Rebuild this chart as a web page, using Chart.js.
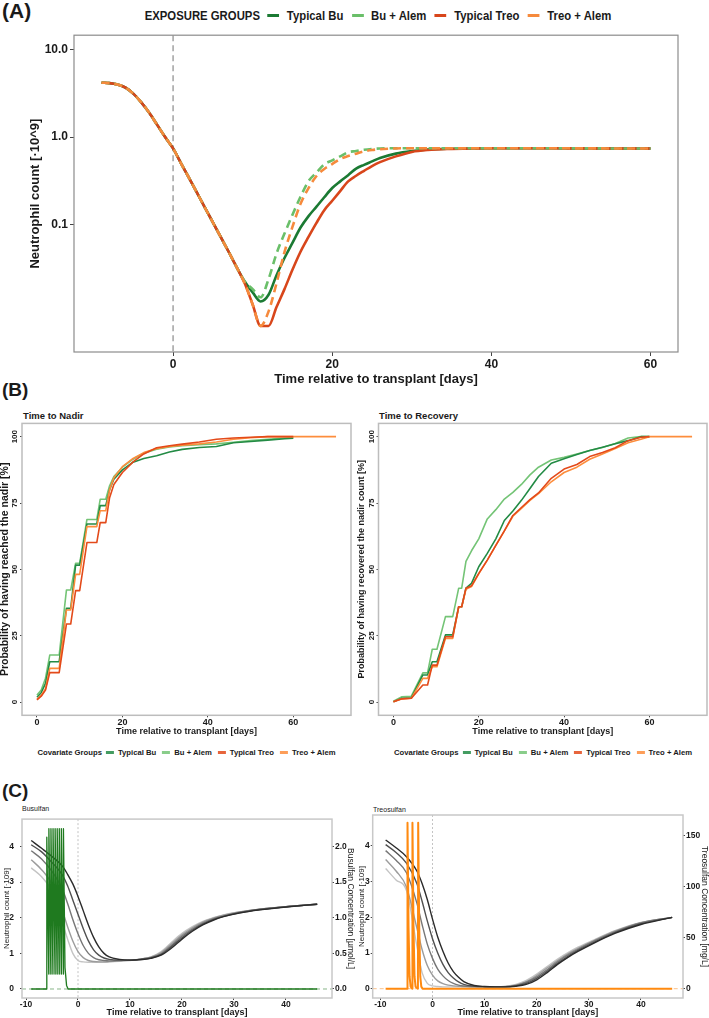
<!DOCTYPE html>
<html>
<head>
<meta charset="utf-8">
<script src="https://cdn.jsdelivr.net/npm/chart.js@4.4.1/dist/chart.umd.min.js"></script>
<style>
  html,body{margin:0;padding:0;background:#fff;}
  body{width:709px;height:1018px;position:relative;overflow:hidden;font-family:"Liberation Sans",Arial,sans-serif;color:#1a1a1a;}
  canvas{position:absolute;}
  .t{position:absolute;white-space:nowrap;line-height:1;}
  .b{font-weight:bold;}
  .leg{position:absolute;display:flex;align-items:center;white-space:nowrap;font-weight:bold;line-height:1;transform:translateX(-50%);}
  .key{display:inline-block;}
</style>
</head>
<body>
<div class="t b" style="left:2px;top:0px;font-size:21px">(A)</div>
<div class="leg" id="legA" style="left:378px;top:9px;font-size:13.5px;transform:translateX(-50%) scaleX(0.84)"></div>
<div class="t b" style="left:2px;top:379.5px;font-size:19px">(B)</div>
<div class="t b" style="left:23px;top:411.3px;font-size:9.5px">Time to Nadir</div>
<div class="t b" style="left:379px;top:411.3px;font-size:9.5px">Time to Recovery</div>
<div class="leg" id="legBL" style="left:186.5px;top:748.5px;font-size:7.7px"></div>
<div class="leg" id="legBR" style="left:543px;top:748.5px;font-size:7.7px"></div>
<div class="t b" style="left:2px;top:781px;font-size:19px">(C)</div>
<div class="t" style="left:22px;top:804.9px;font-size:7px">Busulfan</div>
<div class="t" style="left:373px;top:805.6px;font-size:7px">Treosulfan</div>

<canvas id="cA" width="692" height="366" style="left:0;top:26px"></canvas>
<canvas id="cBL" width="356" height="322" style="left:0;top:418px"></canvas>
<canvas id="cBR" width="353" height="322" style="left:356px;top:418px"></canvas>
<canvas id="cCL" width="362" height="210" style="left:0;top:808px"></canvas>
<canvas id="cCR" width="354" height="210" style="left:355px;top:808px"></canvas>

<script>
// ---------------- DATA ----------------
const groups = ['Typical Bu', 'Bu + Alem', 'Typical Treo', 'Treo + Alem'];

// Panel A: typical neutrophil profiles (x10^9)
const daysA = [-9,-8,-7,-6,-5,-4,-3,-2,-1,0,1,2,3,4,5,6,7,8,
               9,10,11,12,13,14,15,16,17,18,19,20,21,22,23,24,25,26,
               28,30,32,35,40,45,50,55,60];
const neutBu = [4.2,4.15,4.0,3.7,3.15,2.5,1.9,1.38,1.0,0.74,0.5,0.34,0.23,0.155,0.105,0.071,0.048,0.032,
               0.022,0.0165,0.013,0.0155,0.026,0.041,0.061,0.091,0.123,0.158,0.204,0.26,0.31,0.365,0.435,0.48,0.525,0.575,
               0.645,0.69,0.72,0.735,0.745,0.745,0.742,0.74,0.738];
const neutBuAlem = [4.2,4.15,4.0,3.7,3.15,2.5,1.9,1.38,1.0,0.74,0.5,0.34,0.23,0.155,0.105,0.071,0.048,0.032,
               0.022,0.018,0.0145,0.0235,0.046,0.078,0.128,0.205,0.31,0.39,0.485,0.54,0.60,0.67,0.69,0.715,0.73,0.74,
               0.745,0.745,0.745,0.745,0.745,0.745,0.742,0.74,0.738];
const neutTreo = [4.2,4.15,4.0,3.7,3.15,2.5,1.9,1.38,1.0,0.74,0.5,0.34,0.23,0.155,0.105,0.071,0.048,0.032,
               0.021,0.012,0.0068,0.0068,0.0112,0.018,0.030,0.048,0.071,0.103,0.145,0.186,0.24,0.31,0.36,0.41,0.465,0.515,
               0.60,0.675,0.71,0.73,0.745,0.745,0.742,0.74,0.738];
const neutTreoAlem = [4.2,4.15,4.0,3.7,3.15,2.5,1.9,1.38,1.0,0.74,0.5,0.34,0.23,0.155,0.105,0.071,0.048,0.032,
               0.021,0.012,0.0068,0.010,0.021,0.048,0.093,0.17,0.257,0.355,0.43,0.49,0.56,0.605,0.645,0.685,0.71,0.725,
               0.74,0.745,0.745,0.745,0.745,0.745,0.742,0.74,0.738];
const xTicksA = [0,20,40,60];
const yTicksA = [0.1,1,10];

// Panel B left: time to nadir (%)
const daysNadir = [0,1,2,3,5.2,6.9,7.9,9.05,10,11.7,14,14.8,16.1,17,18,20,22.5,25,28,31,34,38,42,46,50,54,58,60,70];
const nadirBu       = [1.8,3.5,7,15.2,15.2,35.3,35.3,51.6,51.6,67.1,67.1,74,74,80,84,87.5,90.4,91.8,92.8,94.2,95.2,95.9,96.3,97.7,98.2,98.7,99.2,99.4,null];
const nadirBuAlem   = [2.6,4.5,9,17.7,17.7,42.2,42.2,52.3,52.3,68.8,68.8,76.4,76.4,81.5,85,88.5,91.5,93.8,95.3,96.1,96.6,97,97.3,97.9,98.5,99,99.5,99.7,null];
const nadirTreo     = [0.8,2.2,4.5,11.1,11.1,29.4,29.4,42,42,60.1,60.1,67.6,67.6,77,82,86.5,90.5,93.5,95.8,96.6,97.2,98,99,99.5,99.8,100,100,100,null];
const nadirTreoAlem = [1.0,2.5,5,12.7,12.7,34.7,34.7,48.1,48.1,66.1,66.1,72.1,72.1,80,84.5,88.7,91.8,94,95.5,96.3,96.8,97.3,98,99,99.6,100,100,100,100];

// Panel B right: time to recovery (%)
const daysRec = [0,2,4.2,6.9,8,9.1,10.2,12.2,13.9,15.3,16,17,18.3,20,22,24,26,28,30,32,34,37,40,43,46,49,52,55,58,60,70];
const recBu       = [0.1,1.4,1.6,10.2,10.2,15.2,15.2,25.3,25.3,35.9,35.9,42.9,44.7,51,56,61.5,68.4,72,76,80.5,85,90,91.7,93.3,94.8,96,97.3,98.5,100,100,null];
const recBuAlem   = [0.3,2.0,2.2,11,11,19.9,19.9,32.2,32.2,42.9,42.9,53,57,61.5,69,72.5,76.5,79,82,85.6,88.5,91.2,92.2,93.5,94.8,95.9,97.4,99.5,100,100,null];
const recTreo     = [0.1,1.2,1.4,6.4,6.4,13.9,13.9,24.6,24.6,35.9,35.9,42.9,43.8,48.5,53.5,59,64.5,70.3,73.3,76.3,78.8,84.3,87.8,89.5,92.5,94,95.8,98.5,99.8,100,null];
const recTreoAlem = [0.1,1.2,1.4,8.9,8.9,13.3,13.3,24,24,35.9,35.9,42.5,43.5,48.3,53.5,59,64.5,70,73,76,78.5,83,86.5,88.5,91.5,93.5,95.5,97.7,99,100,100];
const xTicksB = [0,20,40,60];
const yTicksB = [0,25,50,75,100];

// Panel C: neutrophil profiles for 5 baseline counts + drug concentrations
const daysC = [-9,-7,-5,-3,-2,-1,0,1,2,3,4,5,6,8,10,12,14,16,18,20,22,24,26,28,31,35,40,46];
const buNeut1 = [4.17,3.95,3.72,3.45,3.22,2.95,2.6,2.2,1.8,1.45,1.18,1.0,0.9,0.83,0.81,0.82,0.86,0.95,1.15,1.4,1.62,1.8,1.93,2.03,2.13,2.22,2.3,2.38];
const buNeut2 = [4.05,3.85,3.55,3.2,2.9,2.5,2.1,1.7,1.35,1.1,0.95,0.87,0.83,0.81,0.81,0.83,0.87,0.97,1.19,1.44,1.65,1.82,1.95,2.04,2.14,2.23,2.31,2.38];
const buNeut3 = [3.88,3.65,3.3,2.8,2.4,1.95,1.55,1.22,1.0,0.88,0.82,0.8,0.79,0.8,0.81,0.84,0.88,0.99,1.23,1.48,1.68,1.85,1.97,2.05,2.15,2.24,2.31,2.38];
const buNeut4 = [3.63,3.35,2.95,2.2,1.75,1.35,1.05,0.88,0.8,0.77,0.76,0.76,0.77,0.79,0.81,0.84,0.89,1.02,1.27,1.52,1.72,1.88,1.99,2.07,2.16,2.24,2.31,2.38];
const buNeut5 = [3.4,3.15,2.75,1.85,1.4,1.0,0.8,0.76,0.75,0.75,0.75,0.75,0.76,0.78,0.8,0.84,0.9,1.05,1.31,1.56,1.75,1.9,2.0,2.08,2.16,2.24,2.31,2.38];
const trNeut1 = [4.17,3.95,3.7,3.3,2.95,2.5,1.95,1.45,1.05,0.72,0.48,0.32,0.2,0.09,0.06,0.05,0.05,0.07,0.12,0.25,0.45,0.68,0.88,1.05,1.28,1.55,1.8,2.0];
const trNeut2 = [4.04,3.82,3.52,2.95,2.45,1.9,1.4,1.0,0.68,0.45,0.3,0.19,0.12,0.07,0.055,0.05,0.05,0.08,0.15,0.29,0.49,0.71,0.91,1.08,1.3,1.57,1.82,2.0];
const trNeut3 = [3.87,3.6,3.25,2.4,1.8,1.25,0.85,0.55,0.36,0.23,0.15,0.1,0.075,0.06,0.05,0.05,0.055,0.09,0.18,0.33,0.53,0.75,0.95,1.11,1.33,1.59,1.84,2.0];
const trNeut4 = [3.62,3.3,2.85,1.7,1.1,0.65,0.38,0.22,0.14,0.1,0.08,0.07,0.06,0.05,0.05,0.05,0.06,0.1,0.2,0.37,0.58,0.79,0.98,1.14,1.35,1.61,1.85,2.0];
const trNeut5 = [3.37,3.05,2.75,1.2,0.45,0.15,0.08,0.06,0.05,0.05,0.05,0.05,0.05,0.05,0.05,0.05,0.065,0.12,0.23,0.41,0.62,0.83,1.01,1.17,1.37,1.63,1.86,2.0];

const concBuDays = [-9,-6.05,-6.0,-5.62,-5.6,-5.22,-5.2,-4.82,-4.8,-4.42,-4.4,-4.02,-4.0,-3.62,-3.6,-3.22,-3.2,-2.82,-2.8,-2.5,-2.2,-1.9,46];
const concBu     = [0,0,2.13,0.21,2.25,0.21,2.25,0.21,2.25,0.21,2.25,0.21,2.25,0.21,2.25,0.21,2.25,0.21,2.25,0.3,0.05,0,0];
const concTrDays = [-9,-4.85,-4.8,-4.6,-4.4,-4.2,-3.9,-3.85,-3.65,-3.45,-3.25,-2.8,-2.75,-2.55,-2.35,-2.15,-1.9,46];
const concTr     = [0,0,163,60,12,2,0,163,60,12,2,0,163,60,12,2,0,0];

const xTicksC = [-10,0,10,20,30,40];
const yTicksC = [0,1,2,3,4];
const y2TicksBu = [0,0.5,1.0,1.5,2.0];
const y2TicksTr = [0,50,100,150];

// ---------------- STYLE ----------------
const colA = ['#1b7a33','#6abf69','#d8461b','#f68a3c'];
const colB = ['#238b45','#74c476','#e34a1a','#fd8d3c'];
const grays = ['#2b2b2b','#505050','#777777','#9c9c9c','#c4c4c4'];
const FONT = "'Liberation Sans', Arial, sans-serif";

Chart.defaults.font.family = FONT;
Chart.defaults.color = '#1a1a1a';
Chart.defaults.animation = false;

const decor = {
  id: 'decor',
  beforeDatasetsDraw(chart, args, o) {
    const {ctx, chartArea: a, scales} = chart;
    ctx.save();
    ctx.beginPath(); ctx.rect(a.left, a.top, a.right - a.left, a.bottom - a.top); ctx.clip();
    (o.vlines || []).forEach(l => {
      const x = scales.x.getPixelForValue(l.value);
      ctx.strokeStyle = l.color; ctx.lineWidth = l.width; ctx.setLineDash(l.dash || []);
      ctx.beginPath(); ctx.moveTo(x, a.top); ctx.lineTo(x, a.bottom); ctx.stroke();
    });
    (o.hlines || []).forEach(l => {
      const y = scales[l.axis || 'y'].getPixelForValue(l.value);
      ctx.strokeStyle = l.color; ctx.lineWidth = l.width; ctx.setLineDash(l.dash || []);
      ctx.beginPath(); ctx.moveTo(a.left, y); ctx.lineTo(a.right, y); ctx.stroke();
    });
    ctx.restore();
  },
  afterDraw(chart, args, o) {
    const {ctx, chartArea: a, scales} = chart;
    if (o.border) {
      ctx.save(); ctx.strokeStyle = o.border.color; ctx.lineWidth = o.border.width;
      ctx.strokeRect(a.left, a.top, a.right - a.left, a.bottom - a.top); ctx.restore();
    }
    if (o.rotY) {
      const s = scales.y;
      ctx.save(); ctx.font = o.rotY.font; ctx.fillStyle = o.rotY.color;
      ctx.textAlign = 'center'; ctx.textBaseline = 'middle';
      s.ticks.forEach(t => {
        const y = s.getPixelForValue(t.value);
        ctx.save(); ctx.translate(o.rotY.x, y); ctx.rotate(-Math.PI / 2);
        ctx.fillText(String(t.value), 0, 0); ctx.restore();
      });
      ctx.restore();
    }
  }
};
Chart.register(decor);

function axis(o) {
  const vert = o.pos === 'left' || o.pos === 'right';
  return {
    type: o.type || 'linear', position: o.pos, min: o.min, max: o.max, bounds: 'data',
    afterBuildTicks: s => { s.ticks = o.ticks.map(v => ({value: v})); },
    afterFit: s => { if (vert) s.width = o.size; else s.height = o.size; },
    ticks: {display: o.showTicks !== false, font: o.font, padding: o.pad, color: '#1a1a1a',
            autoSkip: false, maxRotation: 0, minRotation: 0,
            callback: o.fmt || (v => String(v))},
    grid: {display: true, drawOnChartArea: false, drawTicks: true, tickLength: o.tickLen,
           color: o.tickColor || '#444', lineWidth: 1},
    border: {display: false},
    title: o.title ? {display: true, text: o.title, font: o.titleFont, padding: o.titlePad, color: '#1a1a1a'}
                   : {display: false}
  };
}

function lineDS(xs, ys, color, width, dash, smooth, yAxisID) {
  const ds = {
    data: xs.map((x, i) => ({x: x, y: ys[i]})),
    borderColor: color, backgroundColor: color, borderWidth: width, borderDash: dash || [],
    pointRadius: 0, fill: false, tension: 0, spanGaps: false,
    borderCapStyle: 'butt', borderJoinStyle: 'round'
  };
  if (smooth) ds.cubicInterpolationMode = 'monotone';
  if (yAxisID) ds.yAxisID = yAxisID;
  return ds;
}

function base(padding, scales, decorOpts) {
  return {
    responsive: false, animation: false, events: [],
    layout: {padding: padding},
    scales: scales,
    plugins: {legend: {display: false}, tooltip: {enabled: false}, decor: decorOpts}
  };
}

function buildLegend(id, title, keyW, keyH, gap, gapNext, colors, alpha) {
  const el = document.getElementById(id);
  const t = document.createElement('span'); t.textContent = title; el.appendChild(t);
  groups.forEach((g, i) => {
    const k = document.createElement('span'); k.className = 'key';
    k.style.width = keyW + 'px'; k.style.height = keyH + 'px'; k.style.background = colors[i];
    k.style.opacity = alpha; k.style.marginLeft = (i === 0 ? gap : gapNext) + 'px'; k.style.marginRight = gap + 'px';
    el.appendChild(k);
    const s = document.createElement('span'); s.textContent = g; el.appendChild(s);
  });
}
buildLegend('legA', 'EXPOSURE GROUPS', 14, 3, 9, 10, colA, 1);
buildLegend('legBL', 'Covariate Groups', 8, 2.5, 4, 6, colB, 0.85);
buildLegend('legBR', 'Covariate Groups', 8, 2.5, 4, 6, colB, 0.85);

// ---------------- PANEL A ----------------
new Chart(document.getElementById('cA'), {
  type: 'line',
  data: {datasets: [
    lineDS(daysA, neutTreoAlem, colA[3], 2.6, [8, 5], true),
    lineDS(daysA, neutBuAlem, colA[1], 2.6, [8, 5], true),
    lineDS(daysA, neutTreo, colA[2], 2.6, [], true),
    lineDS(daysA, neutBu, colA[0], 2.6, [], true)
  ]},
  options: base({top: 8, right: 14, left: 0, bottom: 0}, {
    x: axis({pos: 'bottom', min: -12.45, max: 63.45, ticks: xTicksA, size: 40, tickLen: 4, pad: 1,
             font: {size: 12, weight: 'bold'}, title: 'Time relative to transplant [days]',
             titleFont: {size: 13, weight: 'bold'}, titlePad: {top: 0, bottom: 5.2}}),
    y: axis({type: 'logarithmic', pos: 'left', min: 0.00342, max: 14.73, ticks: yTicksA, size: 74, tickLen: 4, pad: 2,
             font: {size: 12, weight: 'bold'}, fmt: v => Number(v).toFixed(1),
             title: 'Neutrophil count [·10^9]', titleFont: {size: 13, weight: 'bold'}, titlePad: {top: 27.2, bottom: 0}})
  }, {border: {color: '#8c8c8c', width: 1.2}, vlines: [{value: 0, color: '#9a9a9a', width: 1.4, dash: [6, 4]}]})
});

// ---------------- PANEL B ----------------
function panelB(id, xs, sBu, sBuA, sTr, sTrA, ytitle, titleSize, padR, ywidth) {
  new Chart(document.getElementById(id), {
    type: 'line',
    data: {datasets: [
      lineDS(xs, sTr, colB[2], 1.6),
      lineDS(xs, sTrA, colB[3], 1.6),
      lineDS(xs, sBu, colB[0], 1.6),
      lineDS(xs, sBuA, colB[1], 1.6)
    ]},
    options: base({top: 5.4, right: padR, left: 0, bottom: 0}, {
      x: axis({pos: 'bottom', min: -3.5, max: 73.5, ticks: xTicksB, size: 24.7, tickLen: 2, pad: 0,
               font: {size: 9, weight: 'bold'}, title: 'Time relative to transplant [days]',
               titleFont: {size: 9, weight: 'bold'}, titlePad: {top: 0, bottom: 2.9}}),
      y: axis({pos: 'left', min: -5, max: 105, ticks: yTicksB, size: ywidth, tickLen: 2, pad: 0, showTicks: false,
               title: ytitle, titleFont: {size: titleSize, weight: 'bold', lineHeight: 1},
               titlePad: {top: Math.max(0, ywidth - 16.5 - titleSize / 2), bottom: 0}})
    }, {border: {color: '#bdbdbd', width: 1.5},
        rotY: {x: ywidth - 7, font: 'bold 8px ' + FONT, color: '#1a1a1a'}})
  });
}
panelB('cBL', daysNadir, nadirBu, nadirBuAlem, nadirTreo, nadirTreoAlem,
       'Probability of having reached the nadir [%]', 10.5, 5, 22);
panelB('cBR', daysRec, recBu, recBuAlem, recTreo, recTreoAlem,
       'Probability of having recovered the nadir count [%]', 9, 2, 22.5);

// ---------------- PANEL C ----------------
function panelC(id, conc, concDays, concColor, concWidth, neut, xr, yr, y2r, y2ticks, y2fmt, y2title,
                padTop, yW, y2W, yPad, yTitlePad, y2TitlePad, hcolor) {
  const ds = [lineDS(concDays, conc, concColor, concWidth, [], false, 'y2')];
  neut.forEach((n, i) => ds.push(lineDS(daysC, n, grays[i], 1.4, [], true)));
  new Chart(document.getElementById(id), {
    type: 'line',
    data: {datasets: ds},
    options: base({top: padTop, right: 0, left: 0, bottom: 0}, {
      x: axis({pos: 'bottom', min: xr[0], max: xr[1], ticks: xTicksC, size: 20, tickLen: 2, pad: 0,
               font: {size: 8.5, weight: 'bold'}, title: 'Time relative to transplant [days]',
               titleFont: {size: 9, weight: 'bold'}, titlePad: {top: 0, bottom: 0.3}}),
      y: axis({pos: 'left', min: yr[0], max: yr[1], ticks: yTicksC, size: yW, tickLen: 2, pad: yPad,
               font: {size: 8.5, weight: 'bold'}, title: 'Neutrophil count [·109]',
               titleFont: {size: 8}, titlePad: {top: yTitlePad, bottom: 0}}),
      y2: axis({pos: 'right', min: y2r[0], max: y2r[1], ticks: y2ticks, size: y2W, tickLen: 2, pad: 1,
                font: {size: 8.5, weight: 'bold'}, fmt: y2fmt, title: y2title,
                titleFont: {size: 8.5, lineHeight: 1}, titlePad: {top: y2TitlePad, bottom: 0}})
    }, {border: {color: '#c8c8c8', width: 1.5},
        vlines: [{value: 0, color: '#c4c4c4', width: 1, dash: [2, 2]}],
        hlines: [{value: 0, axis: 'y', color: hcolor, width: 1, dash: [4, 3]}]})
  });
}
panelC('cCL', concBu, concBuDays, '#1f7a1f', 1.3,
       [buNeut1, buNeut2, buNeut3, buNeut4, buNeut5],
       [-10.77, 48.85], [-0.253, 4.77], [-0.1265, 2.385], y2TicksBu, v => Number(v).toFixed(1),
       'Busulfan Concentration [µmol/L]', 5, 22, 30, 6, 2, 7.8, 'rgba(40,120,40,0.55)');
panelC('cCR', concTr, concTrDays, '#ff8a10', 2,
       [trNeut1, trNeut2, trNeut3, trNeut4, trNeut5],
       [-11.48, 48.08], [-0.261, 4.869], [-9.14, 170.6], y2TicksTr, v => String(v),
       'Treosulfan Concentration [mg/L]', 7, 17.7, 26, 1, 2.2, 0, 'rgba(245,150,60,0.6)');
</script>
</body>
</html>
